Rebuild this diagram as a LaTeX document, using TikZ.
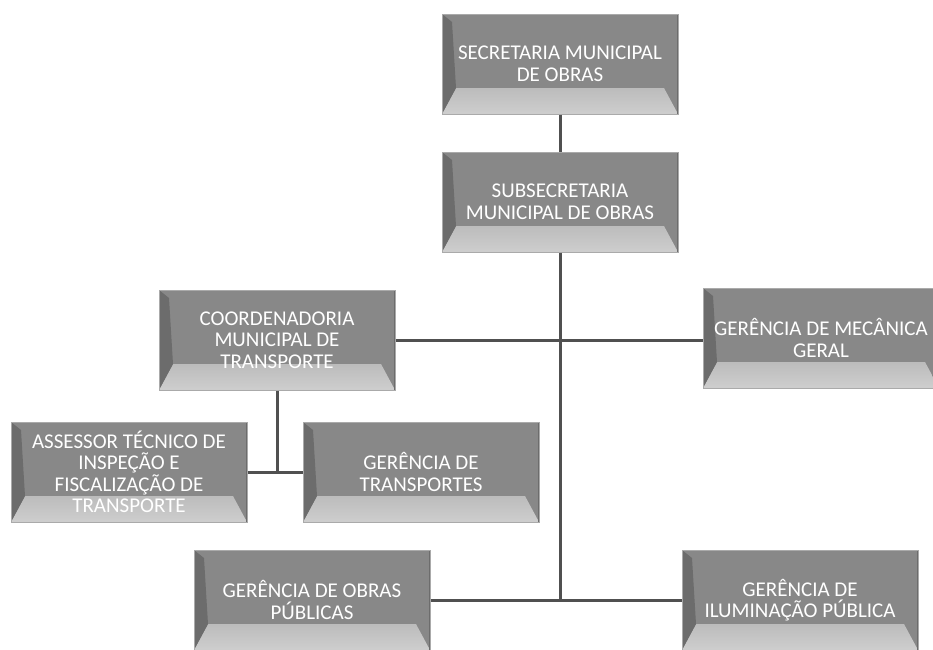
\documentclass[tikz,border=0pt]{standalone}
\usepackage{fontspec}
\newfontfamily\boxfont{Carlito}
\usetikzlibrary{positioning}

\definecolor{boxgray}{RGB}{136,136,136}
\definecolor{boxlight}{RGB}{206,206,206}
\definecolor{boxdark}{RGB}{108,108,108}
\definecolor{boxedge}{RGB}{170,170,170}
\definecolor{linkgray}{RGB}{80,80,80}

\tikzset{
  bevelbox/.style={draw=boxedge, line width=1pt, fill=boxgray, text=white,
    align=center, minimum width=236pt, minimum height=100pt, inner sep=2pt,
    font=\boxfont\fontsize{21}{21.5}\selectfont,
    path picture={
      \shade[top color=boxgray, bottom color=boxlight]
        ([xshift=14pt,yshift=26pt]path picture bounding box.south west) --
        ([xshift=-14pt,yshift=26pt]path picture bounding box.south east) --
        (path picture bounding box.south east) --
        (path picture bounding box.south west) -- cycle;
      \fill[boxdark]
        (path picture bounding box.south west) --
        (path picture bounding box.north west) --
        ([xshift=10pt,yshift=-8pt]path picture bounding box.north west) --
        ([xshift=14pt,yshift=26pt]path picture bounding box.south west) -- cycle;
      \draw[boxdark, line width=2pt]
        (path picture bounding box.south east) -- (path picture bounding box.north east);
    }},
  link/.style={draw=linkgray, line width=3pt}
}

\begin{document}
\begin{tikzpicture}[x=1pt, y=-1pt]
  \useasboundingbox (0,0) rectangle (933,649);

  % direcao
  \node[bevelbox] (sec) at (560,64) {SECRETARIA MUNICIPAL\\DE OBRAS};
  \node[bevelbox] (sub) at (560,202) {SUBSECRETARIA\\MUNICIPAL DE OBRAS};

  % segundo nivel
  \node[bevelbox] (coord) at (277,340) {COORDENADORIA\\MUNICIPAL DE\\TRANSPORTE};
  \node[bevelbox] (mec) at (821,338) {GER\^ENCIA DE MEC\^ANICA\\GERAL};

  % transporte
  \node[bevelbox] (ass) at (129,472) {ASSESSOR T\'ECNICO DE\\INSPE\c{C}\~AO E\\FISCALIZA\c{C}\~AO DE\\TRANSPORTE};
  \node[bevelbox] (trans) at (421,472) {GER\^ENCIA DE\\TRANSPORTES};

  % obras e iluminacao
  \node[bevelbox] (obr) at (312,600) {GER\^ENCIA DE OBRAS\\P\'UBLICAS};
  \node[bevelbox] (ilu) at (800,600) {GER\^ENCIA DE\\ILUMINA\c{C}\~AO P\'UBLICA};

  % ligacoes
  \draw[link] (sec.south) -- (sub.north);
  \draw[link] (sub.south) -- (sub.south |- obr.east);
  \draw[link] (coord.east) -- (coord.east -| mec.west);
  \draw[link] (obr.east) -- (ilu.west);
  \draw[link] (coord.south) -- (coord.south |- ass.east);
  \draw[link] (ass.east) -- (trans.west);
\end{tikzpicture}
\end{document}
